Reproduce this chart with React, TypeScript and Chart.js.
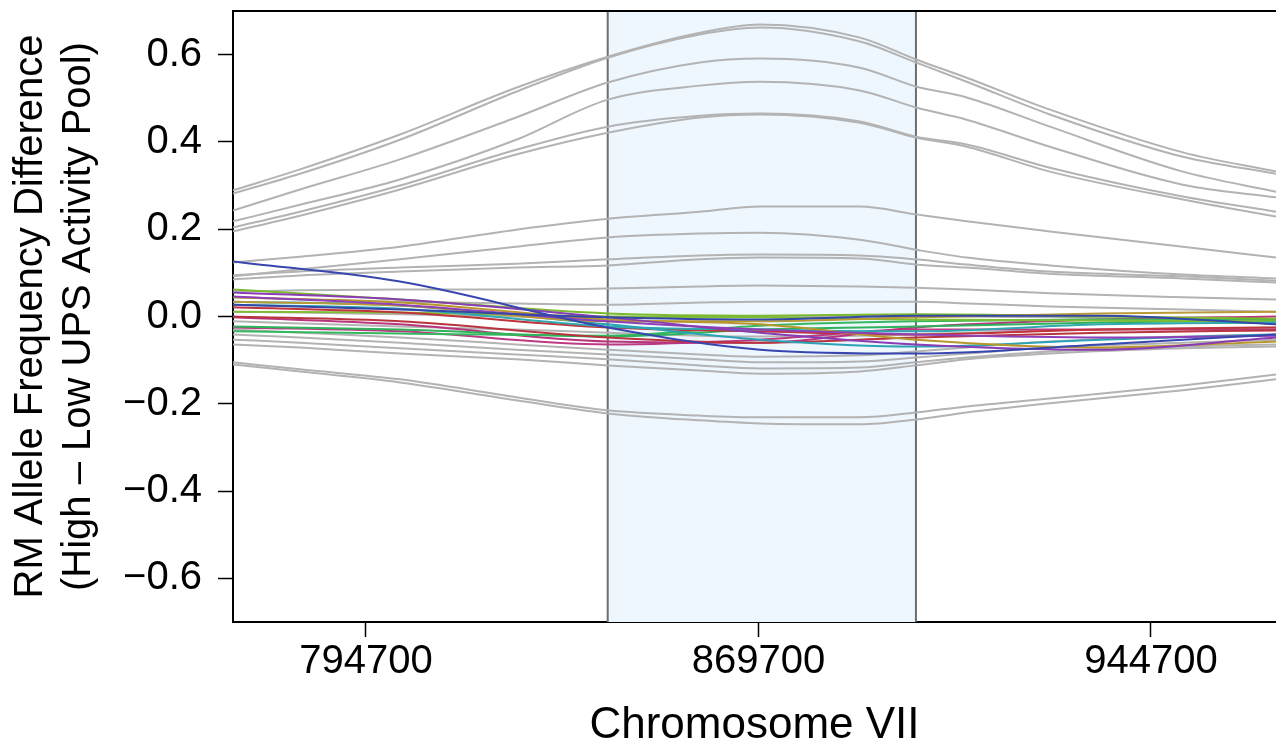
import { useEffect, useRef } from 'react';
import { Chart, registerables } from 'chart.js';

Chart.register(...registerables);

// ---------- axis / region values ----------
const X_MIN = 769300;
const X_MAX = 968600;
const Y_MIN = -0.7;
const Y_MAX = 0.7;
const X_TICKS = [794700, 869700, 944700];
const X_TICK_LABELS = ['794700', '869700', '944700'];
const Y_TICKS = [-0.6, -0.4, -0.2, 0, 0.2, 0.4, 0.6];
const Y_TICK_LABELS = ['\u22120.6', '\u22120.4', '\u22120.2', '0.0', '0.2', '0.4', '0.6'];
const REGION_START = 840900;
const REGION_END = 899800;

// ---------- gray (background) series ----------
const GRAY_X = [769300, 782100, 801200, 823400, 840900, 858500, 870000, 889100, 899800, 909500, 925400, 950800, 968600];

const grayA1 = [0.289, 0.337, 0.417, 0.524, 0.595, 0.650, 0.669, 0.639, 0.589, 0.547, 0.474, 0.376, 0.332];
const grayA2 = [0.282, 0.327, 0.405, 0.515, 0.593, 0.646, 0.662, 0.630, 0.582, 0.538, 0.463, 0.366, 0.327];
const grayB = [0.243, 0.291, 0.360, 0.456, 0.536, 0.582, 0.591, 0.570, 0.527, 0.502, 0.435, 0.332, 0.286];
const grayC = [0.218, 0.256, 0.314, 0.405, 0.497, 0.529, 0.538, 0.518, 0.479, 0.451, 0.389, 0.302, 0.273];
const grayD1 = [0.204, 0.240, 0.300, 0.382, 0.435, 0.460, 0.465, 0.447, 0.412, 0.394, 0.341, 0.275, 0.240];
const grayD2 = [0.195, 0.231, 0.291, 0.371, 0.421, 0.456, 0.463, 0.444, 0.410, 0.389, 0.332, 0.268, 0.229];
const grayE = [0.124, 0.137, 0.160, 0.199, 0.224, 0.240, 0.252, 0.252, 0.234, 0.218, 0.195, 0.160, 0.135];
const grayF = [0.092, 0.108, 0.131, 0.160, 0.181, 0.190, 0.192, 0.176, 0.153, 0.135, 0.117, 0.096, 0.087];
const grayG1 = [0.094, 0.103, 0.112, 0.121, 0.131, 0.140, 0.142, 0.140, 0.131, 0.119, 0.103, 0.092, 0.082];
const grayG2 = [0.085, 0.094, 0.103, 0.112, 0.117, 0.131, 0.135, 0.133, 0.119, 0.112, 0.098, 0.087, 0.078];
const grayH1 = [0.057, 0.060, 0.062, 0.062, 0.064, 0.069, 0.071, 0.069, 0.066, 0.062, 0.053, 0.044, 0.039];
const grayH2 = [0.044, 0.039, 0.034, 0.030, 0.027, 0.032, 0.034, 0.034, 0.034, 0.030, 0.023, 0.016, 0.011];
const grayM1 = [0.011, 0.009, 0.005, 0.000, -0.002, -0.002, 0.000, 0.002, 0.002, 0.000, -0.002, -0.007, -0.009];
const grayM2 = [-0.011, -0.016, -0.023, -0.030, -0.037, -0.044, -0.046, -0.044, -0.041, -0.037, -0.032, -0.027, -0.025];
const grayL1 = [-0.030, -0.037, -0.048, -0.064, -0.076, -0.087, -0.092, -0.089, -0.080, -0.071, -0.057, -0.046, -0.041];
const grayL2 = [-0.041, -0.048, -0.060, -0.076, -0.087, -0.098, -0.105, -0.103, -0.094, -0.085, -0.071, -0.060, -0.053];
const grayL3 = [-0.053, -0.060, -0.073, -0.087, -0.098, -0.112, -0.119, -0.117, -0.105, -0.094, -0.080, -0.069, -0.064];
const grayL4 = [-0.064, -0.071, -0.085, -0.098, -0.112, -0.124, -0.131, -0.126, -0.112, -0.098, -0.085, -0.073, -0.069];
const grayP1 = [-0.105, -0.121, -0.144, -0.185, -0.215, -0.227, -0.231, -0.231, -0.220, -0.206, -0.188, -0.158, -0.133];
const grayP2 = [-0.110, -0.126, -0.151, -0.192, -0.222, -0.238, -0.245, -0.247, -0.236, -0.220, -0.199, -0.169, -0.144];

const GRAY_SERIES = [
  grayA1, grayA2, grayB, grayC, grayD1, grayD2, grayE, grayF, grayG1, grayG2,
  grayH1, grayH2, grayM1, grayM2, grayL1, grayL2, grayL3, grayL4, grayP1, grayP2,
];

// ---------- coloured series ----------
const COLOR_X = [769300, 801200, 840900, 870000, 899800, 935000, 968600];

const blueHigh = [0.126, 0.080, -0.025, -0.076, -0.085, -0.064, -0.041];
const blueLow = [0.027, 0.016, -0.002, -0.007, 0.002, 0.002, -0.018];
const purple1 = [0.055, 0.039, -0.002, -0.037, -0.064, -0.076, -0.048];
const purple2 = [0.046, 0.027, -0.011, -0.030, -0.041, -0.048, -0.044];
const gold1 = [0.044, 0.032, -0.007, -0.018, -0.053, -0.071, -0.057];
const gold2 = [0.034, 0.025, -0.011, -0.011, -0.002, 0.007, 0.011];
const cyan1 = [0.034, 0.025, -0.018, -0.053, -0.069, -0.053, -0.041];
const cyan2 = [0.027, 0.018, -0.023, -0.030, -0.034, -0.018, -0.014];
const red1 = [0.021, 0.009, -0.025, -0.034, -0.041, -0.030, -0.025];
const red2 = [0.000, -0.011, -0.048, -0.060, -0.048, -0.037, -0.032];
const lime1 = [0.062, 0.039, 0.007, 0.002, 0.005, 0.000, -0.005];
const lime2 = [0.011, 0.009, 0.000, -0.002, -0.007, -0.009, -0.011];
const green1 = [-0.023, -0.030, -0.046, -0.030, -0.023, -0.014, -0.009];
const green2 = [-0.034, -0.039, -0.044, -0.021, -0.011, -0.007, -0.007];
const magenta1 = [-0.002, -0.018, -0.057, -0.060, -0.025, -0.007, 0.000];
const magenta2 = [-0.025, -0.034, -0.064, -0.053, -0.030, -0.030, -0.030];

const COLOR_SERIES = [
  blueHigh, blueLow, purple1, purple2, gold1, gold2, cyan1, cyan2,
  red1, red2, lime1, lime2, green1, green2, magenta1, magenta2,
];

// styles (kept apart from the data)
const COLOR_LIST = [
  '#3847b0', '#3446a8', '#8a3cb4', '#8e40b8', '#b8962e', '#b89a36', '#2ba3b5', '#30a8b0',
  '#c0333a', '#b8343e', '#7ab82e', '#80bc34', '#2eb35a', '#34b860', '#b8347c', '#bc3a84',
];
const GRAY_COLOR = '#b3b3b3';
const FONT_FAMILY = '"Liberation Sans", Arial, Helvetica, sans-serif';

const regionPlugin = {
  id: 'regionPlugin',
  beforeDatasetsDraw(chart: any) {
    const { ctx, chartArea, scales } = chart;
    const x0 = scales.x.getPixelForValue(REGION_START);
    const x1 = scales.x.getPixelForValue(REGION_END);
    ctx.save();
    ctx.fillStyle = '#eef6fe';
    ctx.fillRect(x0, chartArea.top, x1 - x0, chartArea.bottom - chartArea.top);
    ctx.strokeStyle = '#6e6e6e';
    ctx.lineWidth = 2;
    ctx.beginPath();
    ctx.moveTo(x0, chartArea.top);
    ctx.lineTo(x0, chartArea.bottom);
    ctx.moveTo(x1, chartArea.top);
    ctx.lineTo(x1, chartArea.bottom);
    ctx.stroke();
    ctx.restore();
  },
  afterDraw(chart: any) {
    const { ctx, chartArea } = chart;
    ctx.save();
    ctx.strokeStyle = '#000';
    ctx.lineWidth = 2;
    ctx.beginPath();
    ctx.moveTo(chartArea.left, chartArea.top);
    ctx.lineTo(chartArea.right, chartArea.top);
    ctx.stroke();
    ctx.restore();
  },
};

export default function App() {
  const canvasRef = useRef<HTMLCanvasElement | null>(null);

  useEffect(() => {
    if (!canvasRef.current) return;

    const grayDatasets = GRAY_SERIES.map((vals) => ({
      data: vals.map((v, i) => ({ x: GRAY_X[i], y: v })),
      borderColor: GRAY_COLOR,
      borderWidth: 2,
      pointRadius: 0,
      cubicInterpolationMode: 'monotone' as const,
      order: 1,
    }));
    const colorDatasets = COLOR_SERIES.map((vals, k) => ({
      data: vals.map((v, i) => ({ x: COLOR_X[i], y: v })),
      borderColor: COLOR_LIST[k],
      borderWidth: 2,
      pointRadius: 0,
      cubicInterpolationMode: 'monotone' as const,
      order: 0,
    }));

    const chart = new Chart(canvasRef.current, {
      type: 'line',
      data: { datasets: [...colorDatasets, ...grayDatasets] as any },
      plugins: [regionPlugin],
      options: {
        animation: false,
        responsive: false,
        devicePixelRatio: 1,
        layout: { padding: { top: 11, right: 0, left: 0, bottom: 0 } },
        plugins: { legend: { display: false }, tooltip: { enabled: false } },
        scales: {
          x: {
            type: 'linear',
            min: X_MIN,
            max: X_MAX,
            afterBuildTicks: (scale: any) => {
              scale.ticks = X_TICKS.map((v) => ({ value: v }));
            },
            afterFit: (scale: any) => {
              scale.height = 128;
              scale.paddingLeft = 0;
              scale.paddingRight = 0;
            },
            ticks: {
              callback: (v: any) => X_TICK_LABELS[X_TICKS.indexOf(Number(v))] ?? '',
              color: '#000',
              font: { family: FONT_FAMILY, size: 40 },
              padding: 1,
              maxRotation: 0,
              autoSkip: false,
            },
            grid: {
              drawOnChartArea: false,
              drawTicks: true,
              tickLength: 15,
              tickColor: '#000',
              tickWidth: 1.5,
            },
            border: { display: true, color: '#000', width: 2 },
            title: {
              display: true,
              text: 'Chromosome VII',
              color: '#000',
              font: { family: FONT_FAMILY, size: 44, lineHeight: 1.1 },
              padding: { top: 0, bottom: 0 },
            },
          },
          y: {
            type: 'linear',
            min: Y_MIN,
            max: Y_MAX,
            afterBuildTicks: (scale: any) => {
              scale.ticks = Y_TICKS.map((v) => ({ value: v }));
            },
            afterFit: (scale: any) => {
              scale.width = 233;
              scale.paddingTop = 0;
              scale.paddingBottom = 0;
            },
            ticks: {
              callback: (v: any) => {
                const idx = Y_TICKS.findIndex((t) => Math.abs(t - Number(v)) < 1e-9);
                return idx >= 0 ? Y_TICK_LABELS[idx] : '';
              },
              color: '#000',
              font: { family: FONT_FAMILY, size: 40 },
              padding: 16,
              autoSkip: false,
            },
            grid: {
              drawOnChartArea: false,
              drawTicks: true,
              tickLength: 15,
              tickColor: '#000',
              tickWidth: 1.5,
            },
            border: { display: true, color: '#000', width: 2 },
            title: {
              display: true,
              text: ['RM Allele Frequency Difference', '(High \u2013 Low UPS Activity Pool)'],
              color: '#000',
              font: { family: FONT_FAMILY, size: 40, lineHeight: 1.2 },
              padding: { top: 7, bottom: 0 },
            },
          },
        },
      },
    });

    return () => {
      chart.destroy();
    };
  }, []);

  return (
    <div style={{ position: 'fixed', left: 0, top: 0, width: 1276, height: 750, background: '#fff' }}>
      <canvas ref={canvasRef} width={1276} height={750} style={{ display: 'block' }} />
    </div>
  );
}
